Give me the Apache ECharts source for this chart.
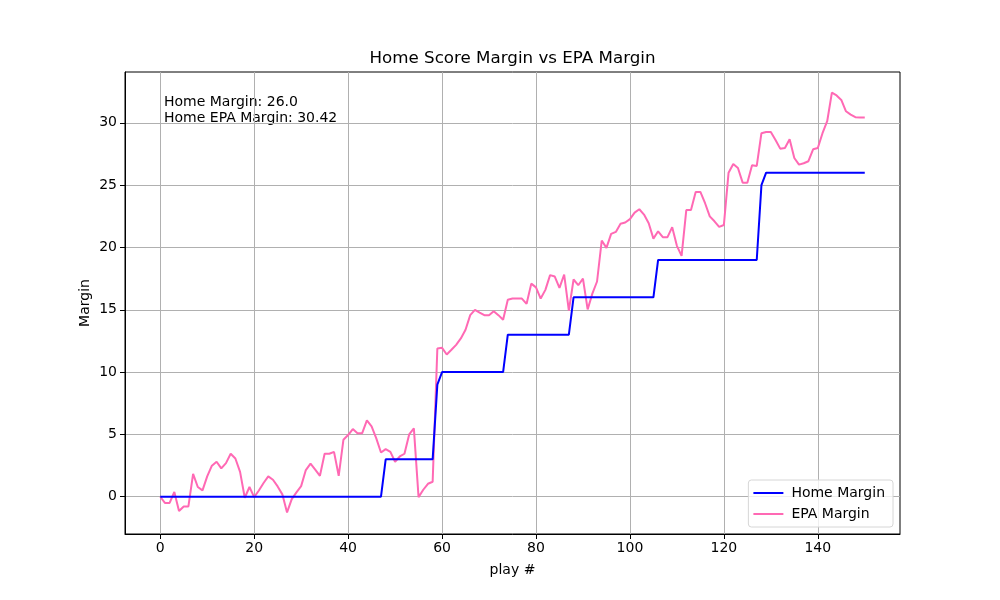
<!DOCTYPE html>
<html>
<head>
<meta charset="utf-8">
<script src="https://cdn.jsdelivr.net/npm/echarts@6/dist/echarts.min.js"></script>
<style>html,body{margin:0;padding:0;background:#fff}#c{width:1000px;height:600px}</style>
</head>
<body>
<div id="c"></div>
<script>
var homeMargin = [
0,0,0,0,0,0,0,0,0,0,
0,0,0,0,0,0,0,0,0,0,
0,0,0,0,0,0,0,0,0,0,
0,0,0,0,0,0,0,0,0,0,
0,0,0,0,0,0,0,0,3,3,
3,3,3,3,3,3,3,3,3,9,
10,10,10,10,10,10,10,10,10,10,
10,10,10,10,13,13,13,13,13,13,
13,13,13,13,13,13,13,13,16,16,
16,16,16,16,16,16,16,16,16,16,
16,16,16,16,16,16,19,19,19,19,
19,19,19,19,19,19,19,19,19,19,
19,19,19,19,19,19,19,19,25,26,
26,26,26,26,26,26,26,26,26,26,
26,26,26,26,26,26,26,26,26,26,
26
];
var epaMargin = [
0,-0.5,-0.5,0.38,-1.15,-0.78,-0.78,1.84,0.78,0.51,
1.63,2.49,2.81,2.27,2.7,3.45,3.07,2.0,-0.08,0.78,
-0.03,0.5,1.1,1.63,1.36,0.83,0.19,-1.26,-0.19,0.35,
0.85,2.14,2.65,2.17,1.68,3.45,3.45,3.6,1.68,4.57,
4.95,5.43,5.1,5.1,6.12,5.64,4.68,3.55,3.82,3.6,
2.81,3.23,3.45,5.0,5.48,-0.03,0.56,1.04,1.2,11.9,
11.95,11.41,11.79,12.19,12.7,13.4,14.57,15.0,14.78,14.57,
14.57,14.89,14.57,14.2,15.8,15.9,15.9,15.9,15.48,17.1,
16.8,15.9,16.6,17.78,17.67,16.76,17.83,14.94,17.43,16.97,
17.5,15.03,16.3,17.27,20.56,19.97,21.09,21.25,21.9,22.0,
22.27,22.8,23.07,22.64,21.95,20.71,21.3,20.83,20.83,21.63,
20.13,19.33,23.0,23.0,24.46,24.46,23.55,22.5,22.1,21.65,
21.8,26.0,26.7,26.38,25.2,25.2,26.6,26.54,29.17,29.27,
29.27,28.63,27.93,27.98,28.68,27.18,26.65,26.76,26.92,27.88,
27.98,29.17,30.13,32.42,32.2,31.84,30.93,30.66,30.45,30.42,
30.42
];
var xTicks = [0,20,40,60,80,100,120,140];
var yTicks = [0,5,10,15,20,25,30];
var finalHome = "26.0";
var finalEpa = "30.42";

var F = "DejaVu Sans";
function pairs(arr){ return arr.map(function(v,i){ return [i, v]; }); }

var chart = echarts.init(document.getElementById('c'), null, {renderer:'canvas'});
chart.setOption({
  animation: false,
  backgroundColor: '#fff',
  grid: { left: 125, right: 100, top: 72, bottom: 66, show: true, borderColor: '#000', borderWidth: 1, containLabel: false },
  xAxis: {
    type: 'value', min: -7.5, max: 157.5,
    name: 'play #', nameLocation: 'middle', nameGap: 29, nameMoveOverlap: false,
    nameTextStyle: { fontFamily: F, fontSize: 14, color: '#000' },
    axisLine: { show: true, onZero: false, lineStyle: { color: '#000', width: 1 } },
    axisTick: { show: true, length: 5, lineStyle: { color: '#000' }, customValues: xTicks },
    axisLabel: { fontFamily: F, fontSize: 14, color: '#000', margin: 7, customValues: xTicks },
    splitLine: { show: true, lineStyle: { color: '#b0b0b0', width: 1 } }
  },
  yAxis: {
    type: 'value', min: -2.99, max: 34.08,
    name: 'Margin', nameLocation: 'middle', nameGap: 33, nameRotate: 90, nameMoveOverlap: false,
    nameTextStyle: { fontFamily: F, fontSize: 14, color: '#000' },
    axisLine: { show: true, onZero: false, lineStyle: { color: '#000', width: 1 } },
    axisTick: { show: true, length: 5, lineStyle: { color: '#000' }, customValues: yTicks },
    axisLabel: { fontFamily: F, fontSize: 14, color: '#000', margin: 8, customValues: yTicks },
    splitLine: { show: true, lineStyle: { color: '#b0b0b0', width: 1 } }
  },
  legend: {
    orient: 'vertical', right: 107, bottom: 73,
    icon: 'rect', itemWidth: 30, itemHeight: 2, itemGap: 7,
    padding: [6, 8, 6, 5],
    backgroundColor: 'rgba(255,255,255,0.8)', borderColor: '#d6d6d6', borderWidth: 1, borderRadius: 3,
    textStyle: { fontFamily: F, fontSize: 14, color: '#000', padding: [0, 0, 0, 3] },
    data: ['Home Margin', 'EPA Margin']
  },
  graphic: [
    { type: 'text', x: 512.5, y: 50, style: { text: 'Home Score Margin vs EPA Margin', fontFamily: F, fontSize: 16.7, fill: '#000', align: 'center', verticalAlign: 'top' } },
    { type: 'text', x: 164, y: 94, style: { text: 'Home Margin: ' + finalHome + '\nHome EPA Margin: ' + finalEpa, fontFamily: F, fontSize: 14, lineHeight: 16, fill: '#000', verticalAlign: 'top' } }
  ],
  series: [
    { name: 'Home Margin', type: 'line', data: pairs(homeMargin), showSymbol: false, symbol: 'none', color: '#0000ff', lineStyle: { width: 2, color: '#0000ff' }, z: 3 },
    { name: 'EPA Margin', type: 'line', data: pairs(epaMargin), showSymbol: false, symbol: 'none', color: '#ff69b4', lineStyle: { width: 2, color: '#ff69b4' }, z: 2 }
  ]
});
</script>
</body>
</html>
